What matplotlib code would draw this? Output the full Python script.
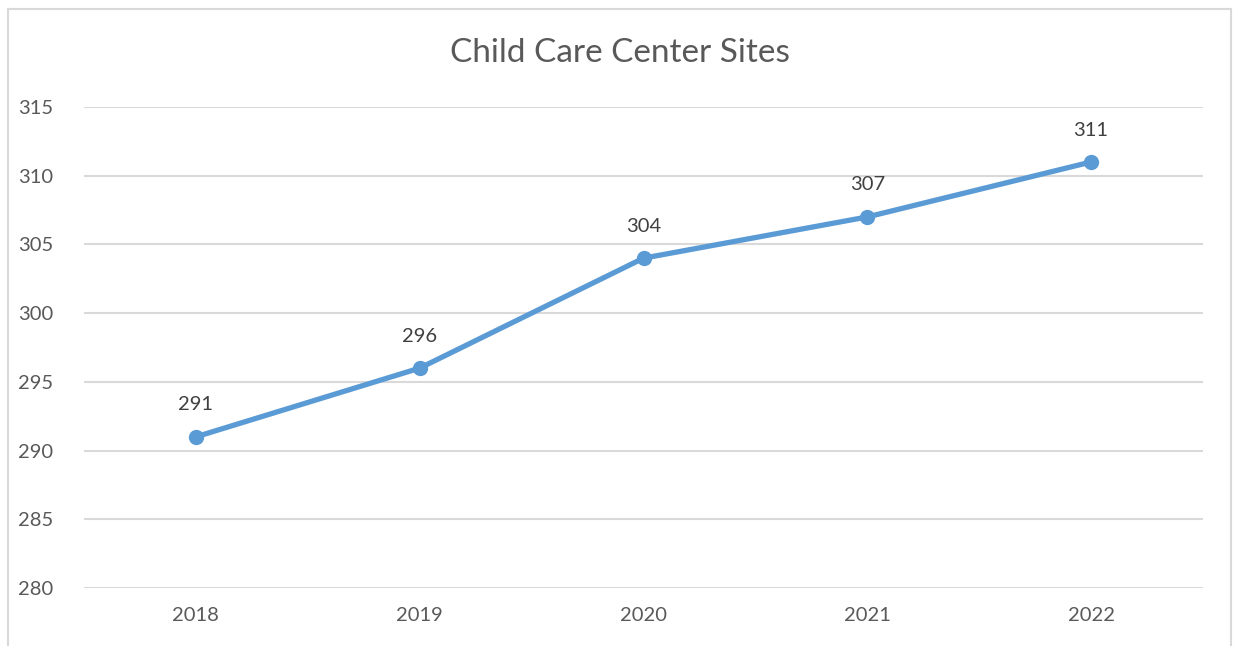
import matplotlib
matplotlib.use("Agg")
import matplotlib.pyplot as plt
from matplotlib.lines import Line2D
import numpy as np

years = ["2018", "2019", "2020", "2021", "2022"]
sites = [291, 296, 304, 307, 311]
yticks = [280, 285, 290, 295, 300, 305, 310, 315]

C_LINE = "#5B9BD5"; C_GRID = "#D9D9D9"; C_TXT = "#595959"
plt.rcParams["font.family"] = ["Lato", "DejaVu Sans"]

fig = plt.figure(figsize=(12.33, 6.46), dpi=100)
ax = fig.add_axes([84/1233, 1 - 588/646, (1203-84)/1233, (588-107)/646])

x = np.arange(len(years))
ax.plot(x, sites, color=C_LINE, lw=3.8, marker="o", ms=10, solid_capstyle="round", zorder=3)
for xi, v in zip(x, sites):
    ax.annotate(str(v), (xi, v), xytext=(0, 23), textcoords="offset points",
                ha="center", va="center", fontsize=14.5, color="#404040")

ax.set_xlim(-0.5, len(years) - 0.5)
ax.set_ylim(280, 315)
ax.set_yticks(yticks)
ax.set_xticks(x); ax.set_xticklabels(years)
ax.grid(axis="y", color=C_GRID, lw=1.5)
ax.set_axisbelow(True)
for s in ax.spines.values():
    s.set_visible(False)
ax.tick_params(length=0, labelsize=14.5, labelcolor=C_TXT)
ax.tick_params(axis="y", pad=22)
ax.tick_params(axis="x", pad=14)

fig.text(620/1233, 1 - 53/646, "Child Care Center Sites", ha="center", va="center",
         fontsize=24, color=C_TXT)

# outer chart border (left, top, right)
bx0, bx1, by = 8/1233, 1231/1233, 1 - 9/646
for xs, ys in [([bx0, bx0], [0, by]), ([bx0, bx1], [by, by]), ([bx1, bx1], [by, 0])]:
    fig.add_artist(Line2D(xs, ys, color="#D9D9D9", lw=1.5, transform=fig.transFigure))

fig.savefig("out.png", dpi=100)
